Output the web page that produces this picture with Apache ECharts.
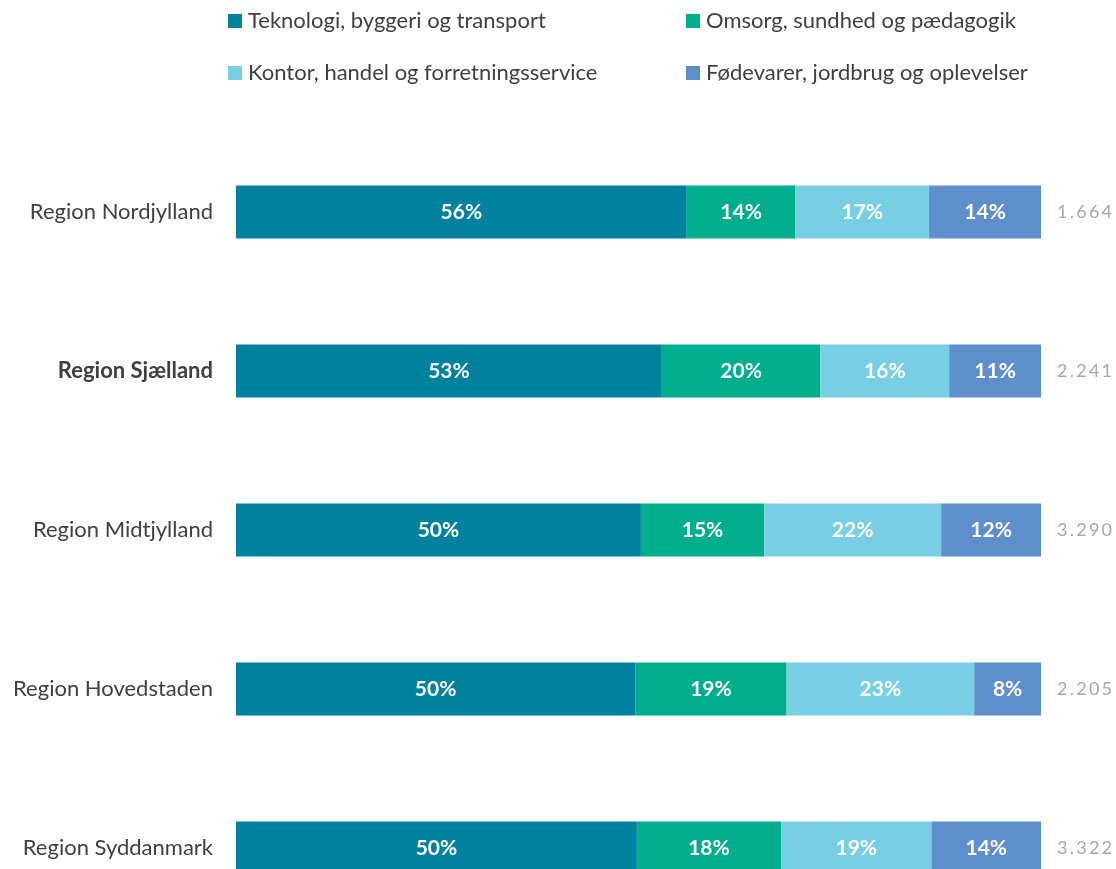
<!DOCTYPE html>
<html>
<head>
<meta charset="utf-8">
<script src="https://cdn.jsdelivr.net/npm/echarts@6/dist/echarts.min.js"></script>
<style>
  html, body { margin: 0; padding: 0; background: #fff; }
  #chart { width: 1116px; height: 869px; }
</style>
</head>
<body>
<div id="chart"></div>
<script>
// Regions, top to bottom
const regions = ['Region Nordjylland', 'Region Sjælland', 'Region Midtjylland', 'Region Hovedstaden', 'Region Syddanmark'];
// Share (%) of each field group per region
const teknologi = [56.0, 52.9, 50.3, 49.6, 49.8];
const omsorg = [13.5, 19.7, 15.3, 18.8, 17.9];
const kontor = [16.6, 16.0, 22.0, 23.3, 18.7];
const foedevarer = [13.9, 11.4, 12.4, 8.3, 13.6];
// Number of people per region
const totals = [1664, 2241, 3290, 2205, 3322];

const seriesNames = [
  'Teknologi, byggeri og transport',
  'Omsorg, sundhed og pædagogik',
  'Kontor, handel og forretningsservice',
  'Fødevarer, jordbrug og oplevelser'
];
const colors = ['#00829E', '#00AE8E', '#78CFE3', '#5E8ECB'];
const seriesData = [teknologi, omsorg, kontor, foedevarer];

const FONT = 'Lato';

// Danish thousands separator, spaced out like the totals column
function fmtTotal(v) {
  const s = String(v).replace(/\B(?=(\d{3})+(?!\d))/g, '.');
  return s.split('').join('\u2009');
}

const chart = echarts.init(document.getElementById('chart'));

function legendAt(name, left, top) {
  return {
    data: [name],
    left: left, top: top, padding: 0,
    icon: 'rect', itemWidth: 14, itemHeight: 14, itemGap: 0,
    textStyle: { fontFamily: FONT, fontSize: 22, color: '#404040', padding: [0, 0, 0, 1] },
    selectedMode: false
  };
}

chart.setOption({
  animation: false,
  color: colors,
  legend: [
    legendAt(seriesNames[0], 228, 10),
    legendAt(seriesNames[1], 686, 10),
    legendAt(seriesNames[2], 228, 62),
    legendAt(seriesNames[3], 686, 62)
  ],
  // rows sit on the category ticks, first and last at the grid edges
  grid: { left: 236, right: 75, top: 212, bottom: 21, containLabel: false },
  xAxis: { type: 'value', min: 0, max: 100, show: false },
  yAxis: [
    {
      type: 'category', data: regions, inverse: true, boundaryGap: false,
      axisLine: { show: false }, axisTick: { show: false }, splitLine: { show: false },
      axisLabel: {
        margin: 23, fontFamily: FONT, fontSize: 22, color: '#404040',
        formatter: function (v) { return v === 'Region Sjælland' ? '{b|' + v + '}' : v; },
        rich: { b: { fontFamily: FONT, fontSize: 22, fontWeight: 'bold', color: '#404040' } }
      }
    },
    {
      type: 'category', data: totals.map(fmtTotal), inverse: true, position: 'right', boundaryGap: false,
      axisLine: { show: false }, axisTick: { show: false }, splitLine: { show: false },
      axisLabel: { margin: 16, fontFamily: FONT, fontSize: 18, color: '#A8A8A8' }
    }
  ],
  series: seriesData.map(function (d, i) {
    return {
      name: seriesNames[i], type: 'bar', stack: 'share', data: d,
      barWidth: 53, clip: false,
      label: {
        show: true, position: 'inside', color: '#fff', fontFamily: FONT,
        fontSize: 21, fontWeight: 'bold',
        formatter: function (p) { return Math.round(p.value) + '%'; }
      }
    };
  })
});
</script>
</body>
</html>
